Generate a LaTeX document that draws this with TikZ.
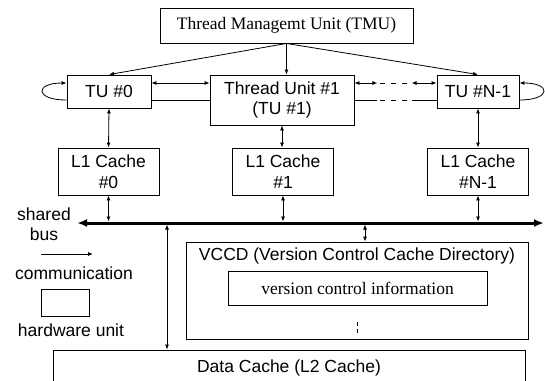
\documentclass[tikz,border=0pt]{standalone}
\usepackage{fontspec}
\setmainfont{Liberation Sans}
\newfontfamily\tmsfont{Liberation Serif}
\usetikzlibrary{arrows.meta,calc}
\begin{document}
\begin{tikzpicture}[x=1pt,y=-1pt,
  box/.style={draw, line width=0.9pt, inner sep=0pt, align=center, font=\fontsize{17.5}{20.5}\selectfont},
  sbox/.style={box, font=\tmsfont\fontsize{17.5}{20.5}\selectfont},
  lab/.style={inner sep=0pt, align=center, font=\fontsize{17.5}{20.5}\selectfont},
  conn/.style={line width=0.8pt, {Latex[length=5pt,width=4pt]}-{Latex[length=5pt,width=4pt]}},
  one/.style={line width=0.8pt, -{Latex[length=5pt,width=4pt]}},
  plain/.style={line width=0.8pt},
  dsh/.style={line width=0.8pt, dash pattern=on 5pt off 6pt, dash phase=-3pt},
  busline/.style={line width=3pt, {Latex[length=10pt,width=8pt]}-{Latex[length=10pt,width=8pt]}}
]
\useasboundingbox (0,0) rectangle (545,380);
\clip (0,0) rectangle (545,380);
\fill[white] (0,0) rectangle (545,380);

% units
\node[sbox, minimum width=253pt, minimum height=35pt] (tmu) at (286.5,25.5) {Thread Managemt Unit (TMU)};
\node[box, minimum width=84pt, minimum height=33pt] (tu0) at (109,91.5) {TU \#0};
\node[box, minimum width=144pt, minimum height=50pt] (tu1) at (282,100) {Thread Unit \#1\\(TU \#1)};
\node[box, minimum width=82pt, minimum height=33pt] (tun) at (478,91.5) {TU \#N-1};
\node[box, minimum width=101pt, minimum height=47pt] (l10) at (108.5,171.5) {L1 Cache\\\#0};
\node[box, minimum width=101pt, minimum height=47pt] (l11) at (283,171.5) {L1 Cache\\\#1};
\node[box, minimum width=101pt, minimum height=47pt] (l1n) at (478,171.5) {L1 Cache\\\#N-1};

\node[box, minimum width=342pt, minimum height=97pt] (vccd) at (357,290.5) {};
\node[lab] (vccdt) at (357,256) {VCCD (Version Control Cache Directory)};
\node[sbox, minimum width=259pt, minimum height=34pt] (vci) at (357.5,288) {version control information};
\draw[line width=0.9pt, dash pattern=on 4pt off 2.5pt] (357,322) -- (357,333);

\node[box, minimum width=472pt, minimum height=36pt] (dc) at (289,368) {Data Cache (L2 Cache)};

% legend
\node[lab] (shared) at (44,224) {shared\\bus};
\coordinate (lg1) at (41,254);
\coordinate (lg2) at (93,254);
\draw[one] (lg1) -- (lg2);
\node[lab] (comm) at (74,273) {communication};
\node[box, minimum width=48pt, minimum height=27pt] (hwbox) at (65,302.5) {};
\node[lab] (hw) at (71,330) {hardware unit};

% TMU to TUs
\draw[one] (tmu.south) -- (tu0.north);
\draw[one] (tmu.south) -- (tmu.south |- tu1.north);
\draw[one] (tmu.south) -- (tun.north);

% TU interconnect
\coordinate (uy) at ([yshift=8.5pt]tu0.east);
\coordinate (ly) at ([yshift=-8.5pt]tu0.east);
\draw[conn] (uy) -- (uy -| tu1.west);
\draw[plain] (ly) -- (ly -| tu1.west);
\coordinate (a1) at (uy -| tu1.east);
\coordinate (a2) at ($(a1)+(23,0)$);
\coordinate (a4) at (uy -| tun.west);
\coordinate (a3) at ($(a4)+(-25,0)$);
\draw[conn] (a1) -- (a2);
\draw[dsh] (a2) -- (a3);
\draw[conn] (a3) -- (a4);
\coordinate (b1) at (ly -| tu1.east);
\coordinate (b2) at ($(b1)+(23,0)$);
\coordinate (b4) at (ly -| tun.west);
\coordinate (b3) at ($(b4)+(-25,0)$);
\draw[plain] (b1) -- (b2);
\draw[dsh] (b2) -- (b3);
\draw[plain] (b3) -- (b4);

% self loops
\draw[one] ([yshift=-8.5pt]tu0.west) .. controls +(-32,0) and +(-32,0) .. ([yshift=8.5pt]tu0.west);
\draw[one] ([yshift=-8.5pt]tun.east) .. controls +(32,0) and +(32,0) .. ([yshift=8.5pt]tun.east);

% TU to L1
\draw[conn] (tu0.south) -- (l10.north);
\draw[conn] (tu1.south) -- (tu1.south |- l11.north);
\draw[conn] (tun.south) -- (l1n.north);

% bus
\coordinate (busL) at (77,223);
\coordinate (busR) at (544,223);
\draw[busline] (busL) -- (busR);
\draw[conn, shorten >=1.5pt] (l10.south) -- (l10.south |- busL);
\draw[conn, shorten >=1.5pt] (l11.south) -- (l11.south |- busL);
\draw[conn, shorten >=1.5pt] (l1n.south) -- (l1n.south |- busL);

\coordinate (dx) at (167,0);
\draw[conn, shorten <=1.5pt] (dx |- busL) -- (dx |- dc.north);
\coordinate (vx) at (365,0);
\draw[conn, shorten <=1.5pt] (vx |- busL) -- (vx |- vccd.north);
\end{tikzpicture}
\end{document}
